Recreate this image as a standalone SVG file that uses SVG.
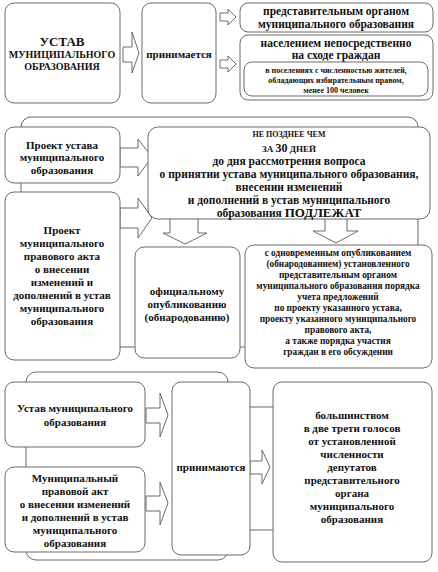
<svg xmlns="http://www.w3.org/2000/svg" width="438" height="572" viewBox="0 0 438 572" font-family="'Liberation Serif', 'DejaVu Serif', 'Times New Roman', serif" font-weight="bold">
<style>
.b{fill:#fff;stroke:#6a6a6a;stroke-width:1}
.a{fill:#fff;stroke:#6a6a6a;stroke-width:1}
text{fill:#111;text-anchor:middle}
.t11{font-size:11px}
.t115{font-size:11.5px}
.t10{font-size:10px}
.t9{font-size:9.3px}
.t8{font-size:8px}
</style>
<rect width="438" height="572" fill="#fff"/>
<g id="frames">
<rect class="b" x="21" y="117" width="397" height="230" rx="10"/>
<rect class="b" x="26" y="372" width="202" height="188" rx="10"/>
<rect class="b" x="240" y="407" width="50" height="123"/>
</g>
<g id="connectors">
<polygon class="a" points="123,47 132,47 132,32 139,53 132,73 132,62 123,62"/>
<polygon class="a" points="220,13 228,13 228,9 236,17 228,25 228,21 220,21"/>
<polygon class="a" points="220,60 228,60 228,56 236,64 228,72 228,68 220,68"/>
<polygon class="a" points="120,148 138,148 138,139 152,157 138,176 138,167 120,167"/>
<polygon class="a" points="120,208 138,208 138,198 152,218 138,238 138,228 120,228"/>
<polygon class="a" points="170,215 198,215 198,233 207,233 185,244 163,233 170,233"/>
<polygon class="a" points="325,215 347,215 347,231 358,231 336,243 313,231 325,231"/>
<polygon class="a" points="146,408 160,408 160,393 168,415 160,437 160,423 146,423"/>
<polygon class="a" points="146,496 160,496 160,482 168,503 160,525 160,511 146,511"/>
<polygon class="a" points="250,461 262,461 262,450 270,467 262,484 262,474 250,474"/>
</g>
<g id="n1">
<rect class="b" x="5" y="3" width="115" height="100" rx="9"/>
<text x="62" y="46" font-size="13">УСТАВ</text>
<text class="t10" x="62" y="58">МУНИЦИПАЛЬНОГО</text>
<text class="t10" x="62" y="70">ОБРАЗОВАНИЯ</text>
</g>
<g id="n2">
<rect class="b" x="142" y="3" width="74" height="100" rx="9"/>
<text class="t11" x="179" y="58">принимается</text>
</g>
<g id="n3">
<rect class="b" x="240" y="3" width="193" height="29" rx="8"/>
<text class="t115" x="336" y="15">представительным органом</text>
<text class="t115" x="336" y="28">муниципального образования</text>
</g>
<g id="n4">
<rect class="b" x="240" y="35" width="193" height="65" rx="8"/>
<text class="t115" x="336" y="47">населением непосредственно</text>
<text class="t115" x="336" y="59">на сходе граждан</text>
<rect class="b" x="244" y="62" width="184" height="34" rx="8"/>
<text class="t8" x="336" y="73">в поселениях с численностью жителей,</text>
<text class="t8" x="336" y="83">обладающих избирательным правом,</text>
<text class="t8" x="336" y="93">менее 100 человек</text>
</g>
<g id="n5">
<rect class="b" x="5" y="127" width="115" height="56" rx="9"/>
<text class="t11" x="62" y="149">Проект устава</text>
<text class="t11" x="62" y="161">муниципального</text>
<text class="t11" x="62" y="174">образования</text>
</g>
<g id="n6">
<rect class="b" x="5" y="192" width="115" height="168" rx="9"/>
<text class="t11" x="62" y="234">Проект</text>
<text class="t11" x="62" y="247">муниципального</text>
<text class="t11" x="62" y="260">правового акта</text>
<text class="t11" x="62" y="273">о внесении</text>
<text class="t11" x="62" y="286">изменений и</text>
<text class="t11" x="62" y="299">дополнений в устав</text>
<text class="t11" x="62" y="312">муниципального</text>
<text class="t11" x="62" y="325">образования</text>
</g>
<g id="n7">
<rect class="b" x="148" y="127" width="282" height="92" rx="10"/>
<text class="t8" x="289" y="137">НЕ ПОЗДНЕЕ ЧЕМ</text>
<text x="289" y="152"><tspan font-size="9">ЗА </tspan><tspan font-size="12">30</tspan><tspan font-size="9"> ДНЕЙ</tspan></text>
<text class="t115" x="289" y="165">до дня рассмотрения вопроса</text>
<text class="t115" x="289" y="178">о принятии устава муниципального образования,</text>
<text class="t115" x="289" y="191">внесении изменений</text>
<text class="t115" x="289" y="204">и дополнений в устав муниципального</text>
<text x="289" y="217"><tspan font-size="11.5">образования </tspan><tspan font-size="13">ПОДЛЕЖАТ</tspan></text>
</g>
<g id="n8">
<rect class="b" x="135" y="247" width="105" height="111" rx="9"/>
<text class="t11" x="187" y="295">официальному</text>
<text class="t11" x="187" y="308">опубликованию</text>
<text class="t11" x="187" y="321">(обнародованию)</text>
</g>
<g id="n9">
<rect class="b" x="245" y="245" width="187" height="123" rx="9"/>
<text class="t9" x="338" y="256">с одновременным опубликованием</text>
<text class="t9" x="338" y="267">(обнародованием) установленного</text>
<text class="t9" x="338" y="278">представительным органом</text>
<text class="t9" x="338" y="289">муниципального образования порядка</text>
<text class="t9" x="338" y="300">учета предложений</text>
<text class="t9" x="338" y="311">по проекту указанного устава,</text>
<text class="t9" x="338" y="322">проекту указанного муниципального</text>
<text class="t9" x="338" y="333">правового акта,</text>
<text class="t9" x="338" y="344">а также порядка участия</text>
<text class="t9" x="338" y="355">граждан в его обсуждении</text>
</g>
<g id="n10">
<rect class="b" x="5" y="382" width="140" height="65" rx="9"/>
<text class="t11" x="75" y="412">Устав муниципального</text>
<text class="t11" x="75" y="426">образования</text>
</g>
<g id="n11">
<rect class="b" x="5" y="467" width="140" height="85" rx="9"/>
<text class="t11" x="75" y="482">Муниципальный</text>
<text class="t11" x="75" y="495">правовой акт</text>
<text class="t11" x="75" y="508">о внесении изменений</text>
<text class="t11" x="75" y="521">и дополнений в устав</text>
<text class="t11" x="75" y="534">муниципального</text>
<text class="t11" x="75" y="547">образования</text>
</g>
<g id="n12">
<rect class="b" x="172" y="382" width="78" height="173" rx="9"/>
<text class="t11" x="211" y="471">принимаются</text>
</g>
<g id="n13">
<rect class="b" x="273" y="382" width="159" height="180" rx="9"/>
<text class="t11" x="352" y="419">большинством</text>
<text class="t11" x="352" y="432">в две трети голосов</text>
<text class="t11" x="352" y="445">от установленной</text>
<text class="t11" x="352" y="458">численности</text>
<text class="t11" x="352" y="471">депутатов</text>
<text class="t11" x="352" y="484">представительного</text>
<text class="t11" x="352" y="497">органа</text>
<text class="t11" x="352" y="510">муниципального</text>
<text class="t11" x="352" y="523">образования</text>
</g>
</svg>
